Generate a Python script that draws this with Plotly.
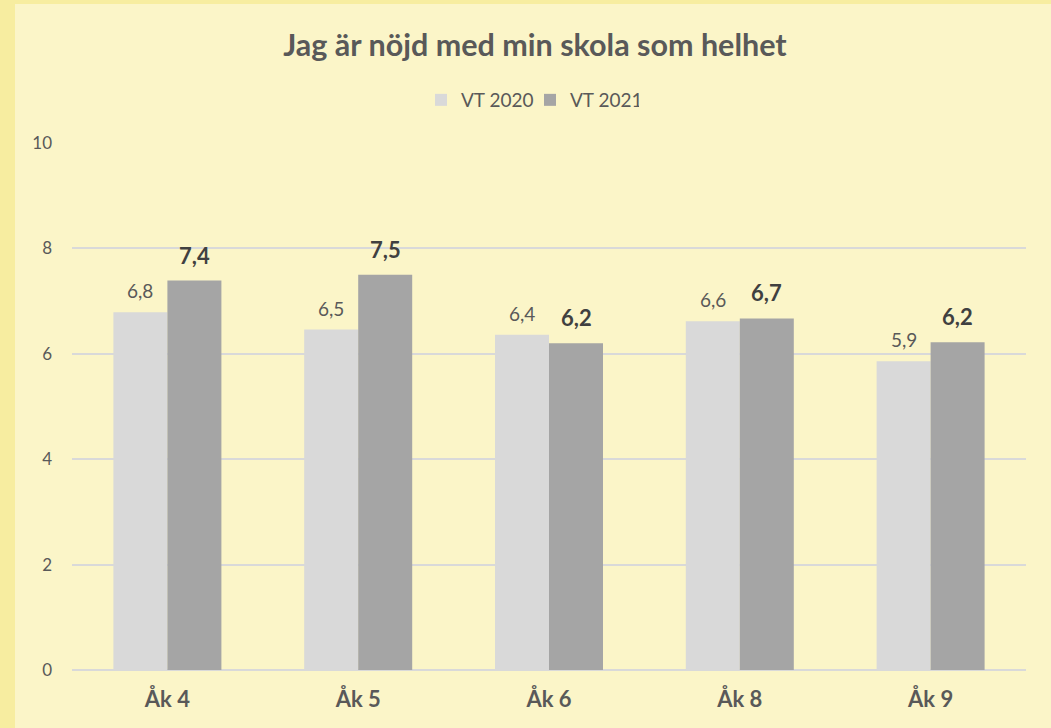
import plotly.graph_objects as go

categories = ["Åk 4", "Åk 5", "Åk 6", "Åk 8", "Åk 9"]
vt2020 = [6.79, 6.46, 6.36, 6.62, 5.86]
vt2021 = [7.39, 7.50, 6.20, 6.67, 6.22]
y_ticks = [0, 2, 4, 6, 8, 10]

FONT = "Lato, 'Open Sans', sans-serif"
W, H = 1051, 728
L, R, T, B = 72, 25, 143, 58
BAR_HALF = 27  # px offset of each bar centre from category centre

fig = go.Figure()
fig.add_trace(go.Bar(
    x=categories, y=vt2020, name="VT 2020",
    marker=dict(color="#D9D9D9", line=dict(width=0)),
))
fig.add_trace(go.Bar(
    x=categories, y=vt2021, name="VT 2021",
    marker=dict(color="#A5A5A5", line=dict(width=0)),
))

annotations = []
for c, v in zip(categories, vt2020):
    annotations.append(dict(
        x=c, y=v, xref="x", yref="y", text=f"{v:.1f}".replace(".", ","),
        showarrow=False, xshift=-BAR_HALF, yshift=8, yanchor="bottom",
        font=dict(family=FONT, size=19, color="#595959")))
for c, v in zip(categories, vt2021):
    annotations.append(dict(
        x=c, y=v, xref="x", yref="y", text="<b>" + f"{v:.1f}".replace(".", ",") + "</b>",
        showarrow=False, xshift=BAR_HALF, yshift=10, yanchor="bottom",
        font=dict(family=FONT, size=22, color="#404040")))

pw = W - L - R
ph = H - T - B
fig.update_layout(
    width=W, height=H,
    margin=dict(l=L, r=R, t=T, b=B),
    paper_bgcolor="#FBF5C8",
    plot_bgcolor="rgba(0,0,0,0)",
    barmode="group", bargap=0.434, bargroupgap=0,
    font=dict(family=FONT, color="#595959"),
    title=dict(text="<b>Jag är nöjd med min skola som helhet</b>",
               x=535 / W, xanchor="center", xref="container",
               y=1 - 45 / H, yanchor="middle", yref="container",
               font=dict(family=FONT, size=30.5, color="#595959")),
    legend=dict(orientation="h", x=421 / W, xanchor="left", xref="container",
                y=1 - 100 / H, yanchor="middle", yref="container",
                font=dict(family=FONT, size=19, color="#595959"),
                bgcolor="rgba(0,0,0,0)", itemwidth=30, traceorder="normal",
                entrywidth=64, entrywidthmode="pixels"),
    xaxis=dict(showgrid=False, showline=False, ticks="",
               tickfont=dict(family=FONT, size=22, color="#595959"),
               tickprefix="<b>", ticksuffix="</b>", ticklabelstandoff=14),
    yaxis=dict(range=[0, 10], tickvals=y_ticks, showgrid=True,
               gridcolor="#D9D9D9", gridwidth=2, zeroline=True,
               zerolinecolor="#D9D9D9", zerolinewidth=2,
               showline=False, ticks="",
               tickfont=dict(family=FONT, size=17, color="#595959"),
               ticklabelstandoff=19),
    annotations=annotations,
    shapes=[
        dict(type="rect", xref="paper", yref="paper",
             x0=-L / pw, x1=(15 - L) / pw, y0=-B / ph, y1=1 + T / ph,
             fillcolor="#F7EDA0", line=dict(width=0), layer="below"),
        dict(type="rect", xref="paper", yref="paper",
             x0=-L / pw, x1=1 + R / pw, y0=1 + (T - 4) / ph, y1=1 + T / ph,
             fillcolor="#F7EDA0", line=dict(width=0), layer="below"),
    ],
)

fig.write_html("out.html", config={"displayModeBar": False},
               post_script="document.body.style.margin='0';document.body.style.overflow='hidden';")
